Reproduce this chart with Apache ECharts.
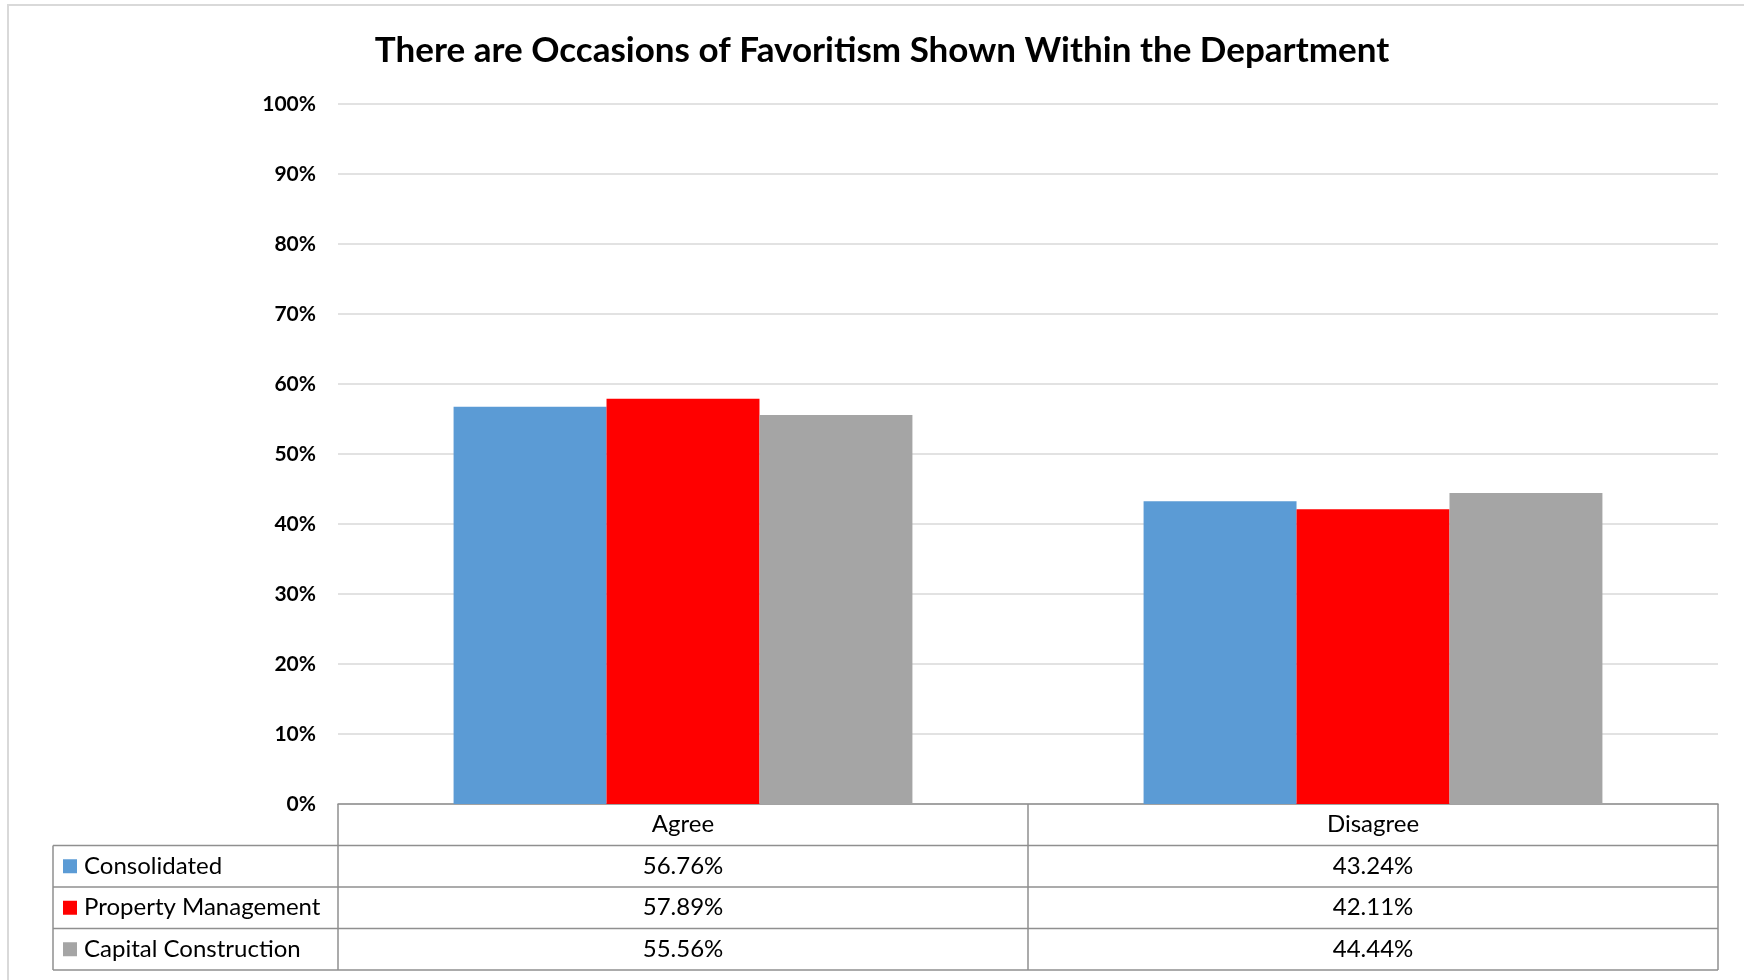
<!DOCTYPE html>
<html>
<head>
<meta charset="utf-8">
<style>
  html, body { margin: 0; padding: 0; background: #fff; }
  #chart { width: 1744px; height: 980px; }
</style>
<script src="https://cdn.jsdelivr.net/npm/echarts@6/dist/echarts.min.js"></script>
</head>
<body>
<div id="chart"></div>
<script>
// Survey responses by group
const categories = ['Agree', 'Disagree'];
const seriesNames = ['Consolidated', 'Property Management', 'Capital Construction'];
const consolidated = [56.76, 43.24];
const propertyManagement = [57.89, 42.11];
const capitalConstruction = [55.56, 44.44];
const yTicks = [0, 10, 20, 30, 40, 50, 60, 70, 80, 90, 100];

const seriesValues = [consolidated, propertyManagement, capitalConstruction];
const colors = ['#5B9BD5', '#FF0000', '#A5A5A5'];
const FONT = 'Lato, "Open Sans", sans-serif';
const GRID = { left: 338, right: 26, top: 104, bottom: 176 };
const ROW_H = 41.5;
const TABLE_LEFT = 53;
const LINE = '#8f8f8f';

const chart = echarts.init(document.getElementById('chart'), null, { renderer: 'canvas' });

chart.setOption({
  backgroundColor: '#fff',
  animation: false,
  title: {
    text: 'There are Occasions of Favoritism Shown Within the Department',
    left: 877, top: 28, textAlign: 'center',
    textStyle: { fontFamily: FONT, fontWeight: 'bold', fontSize: 35, color: '#000' }
  },
  grid: GRID,
  xAxis: {
    type: 'category',
    data: categories,
    axisLine: { show: true, lineStyle: { color: LINE, width: 1.5 } },
    axisTick: { show: false },
    axisLabel: { show: false }
  },
  yAxis: {
    type: 'value',
    min: yTicks[0], max: yTicks[yTicks.length - 1], interval: 10,
    axisLine: { show: false },
    axisTick: { show: false },
    axisLabel: {
      formatter: '{value}%', margin: 22,
      fontFamily: FONT, fontWeight: 'bold', fontSize: 21, color: '#000'
    },
    splitLine: { lineStyle: { color: '#d9d9d9', width: 1.5 } }
  },
  series: seriesNames.map((name, i) => ({
    name, type: 'bar', data: seriesValues[i],
    barGap: '0%', barCategoryGap: '33.5%',
    itemStyle: { color: colors[i] }
  }))
});

// Data table beneath the plot, aligned to the category bands
function drawTable() {
  const c0 = chart.convertToPixel({ xAxisIndex: 0 }, categories[0]);
  const c1 = chart.convertToPixel({ xAxisIndex: 0 }, categories[1]);
  const band = c1 - c0;
  const xs = categories.map((_, i) => c0 - band / 2 + i * band);
  const xRight = xs[xs.length - 1] + band;
  const yTop = chart.convertToPixel({ yAxisIndex: 0 }, 0);
  const els = [];
  const ln = (x1, y1, x2, y2) => els.push({
    type: 'line', silent: true,
    shape: { x1, y1, x2, y2 },
    style: { stroke: LINE, lineWidth: 1.5 }
  });
  const txt = (x, y, text, align) => els.push({
    type: 'text', silent: true,
    style: { x, y, text, align: align || 'center', verticalAlign: 'middle',
      fontFamily: FONT, fontSize: 24, fill: '#000' }
  });

  const nRows = seriesNames.length;
  const yBottom = yTop + ROW_H * (nRows + 1);
  // horizontal rules
  for (let r = 1; r <= nRows + 1; r++) {
    ln(TABLE_LEFT, yTop + r * ROW_H, xRight, yTop + r * ROW_H);
  }
  // vertical rules
  xs.forEach(x => ln(x, yTop, x, yBottom));
  ln(xRight, yTop, xRight, yBottom);
  ln(TABLE_LEFT, yTop + ROW_H, TABLE_LEFT, yBottom);

  // header
  categories.forEach((c, i) => txt(xs[i] + band / 2, yTop + ROW_H / 2, c));
  // rows
  seriesNames.forEach((name, r) => {
    const cy = yTop + ROW_H * (r + 1.5);
    els.push({ type: 'rect', silent: true,
      shape: { x: TABLE_LEFT + 10, y: cy - 7, width: 14, height: 14 },
      style: { fill: colors[r] } });
    txt(TABLE_LEFT + 31, cy, name, 'left');
    seriesValues[r].forEach((v, i) => txt(xs[i] + band / 2, cy, v.toFixed(2) + '%'));
  });

  // outer chart frame
  els.push({ type: 'rect', silent: true, z: -1,
    shape: { x: 8, y: 5, width: 1800, height: 1000 },
    style: { fill: 'none', stroke: '#d9d9d9', lineWidth: 2 } });

  chart.setOption({ graphic: { elements: els } });
}
drawTable();
</script>
</body>
</html>
